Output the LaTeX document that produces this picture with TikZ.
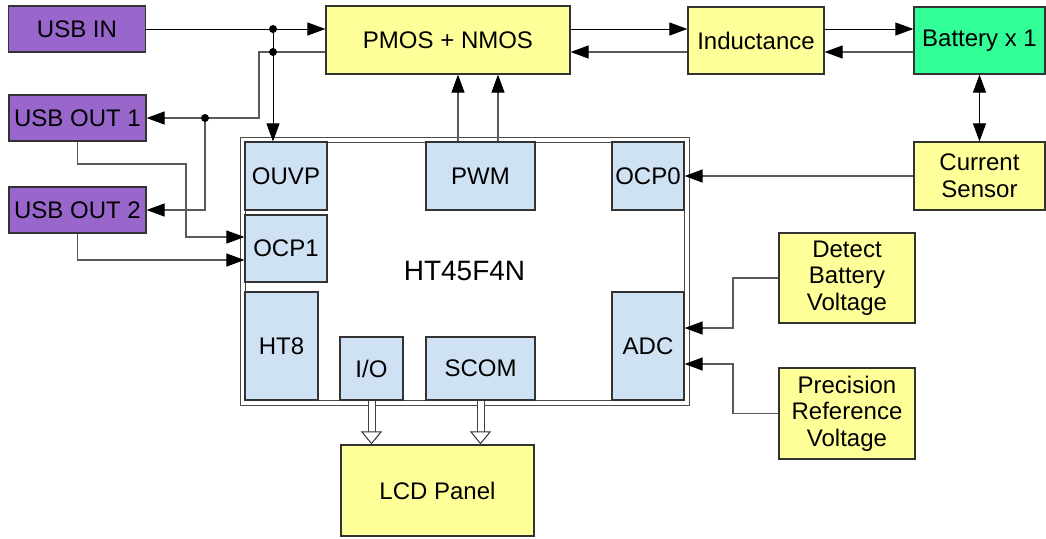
\documentclass[tikz,border=0pt]{standalone}
\usepackage{fontspec}
\setmainfont{Liberation Sans}
\usepackage{tikz}
\usetikzlibrary{arrows.meta,positioning,calc}

\definecolor{usbpurple}{HTML}{9966CC}
\definecolor{boxyellow}{HTML}{FFFF99}
\definecolor{battgreen}{HTML}{33FF99}
\definecolor{blockblue}{HTML}{CFE2F3}
\definecolor{wiregray}{HTML}{5A5A5A}

\begin{document}
\begin{tikzpicture}[x=0.5pt,y=-0.5pt,
        font=\fontsize{12}{13.3}\selectfont,
        box/.style={draw=black!80,line width=0.6pt,inner sep=1pt,align=center},
        usbbox/.style={box,fill=usbpurple,minimum width=68.5pt,minimum height=23pt},
        ylbox/.style={box,fill=boxyellow},
        blk/.style={box,fill=blockblue},
        wire/.style={line width=0.5pt,black},
        gwire/.style={line width=0.55pt,wiregray},
        tip/.tip={Triangle[length=9pt,width=6.5pt,color=black]},
        arr/.style={-tip},
        busarr/.style={black!75,line width=0.5pt,double=white,double distance=3pt,
            -{Triangle[open,length=6.5pt,width=10.5pt,fill=white,color=black!80]}}]
        \useasboundingbox (0,0) rectangle (1046,538);

        % USB ports
        \node[usbbox] (usbin) at (77,29) {USB IN};
        \node[usbbox] (usbout1) at (77.5,118) {USB OUT 1};
        \node[usbbox] (usbout2) at (77.5,210) {USB OUT 2};

        % Power path
        \node[ylbox,minimum width=122pt,minimum height=34pt] (pmos) at (448,40) {PMOS + NMOS};
        \node[ylbox,minimum width=68pt,minimum height=33.5pt] (ind) at (756,40.5) {Inductance};
        \node[box,fill=battgreen,minimum width=65.5pt,minimum height=33.5pt] (batt) at (979.5,40.5) {Battery x 1};
        \node[ylbox,minimum width=65.5pt,minimum height=34pt] (sensor) at (979.5,176) {Current\\Sensor};
        \node[ylbox,minimum width=68pt,minimum height=45pt] (detect) at (847,278) {Detect\\Battery\\Voltage};
        \node[ylbox,minimum width=68pt,minimum height=45.5pt] (prec) at (847,413.5) {Precision\\Reference\\Voltage};
        \node[ylbox,minimum width=96.5pt,minimum height=45.5pt] (lcd) at (437.5,490.5) {LCD Panel};

        % MCU with its blocks
        \node[draw=black!70,line width=0.5pt,double=white,double distance=2pt,
            minimum width=222pt,minimum height=131.5pt,
            font=\fontsize{14}{16}\selectfont] (chip) at (464.5,271) {HT45F4N};
        \node[blk,minimum width=41pt,minimum height=34pt] (ouvp) at (286,176) {OUVP};
        \node[blk,minimum width=41pt,minimum height=33.5pt] (ocp1) at (286,248.5) {OCP1};
        \node[blk,minimum width=36.5pt,minimum height=54pt] (ht8) at (281.5,346) {HT8};
        \node[blk,minimum width=31.5pt,minimum height=31.5pt] (io) at (371.5,368.5) {I/O};
        \node[blk,minimum width=54.5pt,minimum height=31.5pt] (scom) at (480.5,368.5) {SCOM};
        \node[blk,minimum width=54.5pt,minimum height=34pt] (pwm) at (480.5,176) {PWM};
        \node[blk,minimum width=36pt,minimum height=34pt] (ocp0) at (648,176) {OCP0};
        \node[blk,minimum width=36pt,minimum height=54pt] (adc) at (648,346) {ADC};

        % junctions and bends
        \coordinate (j1) at (273,29);
        \coordinate (j2) at (273,52);
        \coordinate (j3) at (205,118);
        \coordinate (k1) at (259,52);
        \coordinate (k2) at (186,164);
        \coordinate (k3) at (733,328);
        \coordinate (k4) at (733,364);

        % input side
        \draw[wire,arr] (usbin.east) -- (usbin.east -| pmos.west);
        \draw[wire,arr] (j1) -- (j1 |- ouvp.north);
        \draw[gwire,arr] (pmos.west |- j2) -- (k1) |- (usbout1.east);
        \draw[gwire,arr] (j3) |- (usbout2.east);
        \draw[gwire,arr] (usbout1.south) |- (k2) |- ([yshift=5.75pt]ocp1.west);
        \draw[gwire,arr] (usbout2.south) |- ([yshift=-5.75pt]ocp1.west);
        \foreach \j in {j1,j2,j3} {
            \fill (\j) circle (2pt);
        }

        % PWM drive
        \draw[gwire,arr] ([xshift=-11.25pt]pwm.north) -- ([xshift=-11.25pt]pwm.north |- pmos.south);
        \draw[gwire,arr] ([xshift=8.75pt]pwm.north) -- ([xshift=8.75pt]pwm.north |- pmos.south);

        % power stage
        \draw[wire,arr] (pmos.east |- usbin.east) -- (ind.west |- usbin.east);
        \draw[gwire,arr] (ind.west |- j2) -- (pmos.east |- j2);
        \draw[wire,arr] (ind.east |- usbin.east) -- (batt.west |- usbin.east);
        \draw[gwire,arr] (batt.west |- j2) -- (ind.east |- j2);
        \draw[wire,tip-tip] (batt.south) -- (sensor.north);

        % sensing
        \draw[gwire,arr] (sensor.west) -- (sensor.west -| ocp0.east);
        \draw[gwire,arr] (detect.west) -| (k3) -- (k3 -| adc.east);
        \draw[gwire,arr] (prec.west) -| (k4) -- (k4 -| adc.east);

        % display bus
        \draw[busarr] (io.south) -- (io.south |- lcd.north);
        \draw[busarr] (scom.south) -- (scom.south |- lcd.north);
\end{tikzpicture}
\end{document}
